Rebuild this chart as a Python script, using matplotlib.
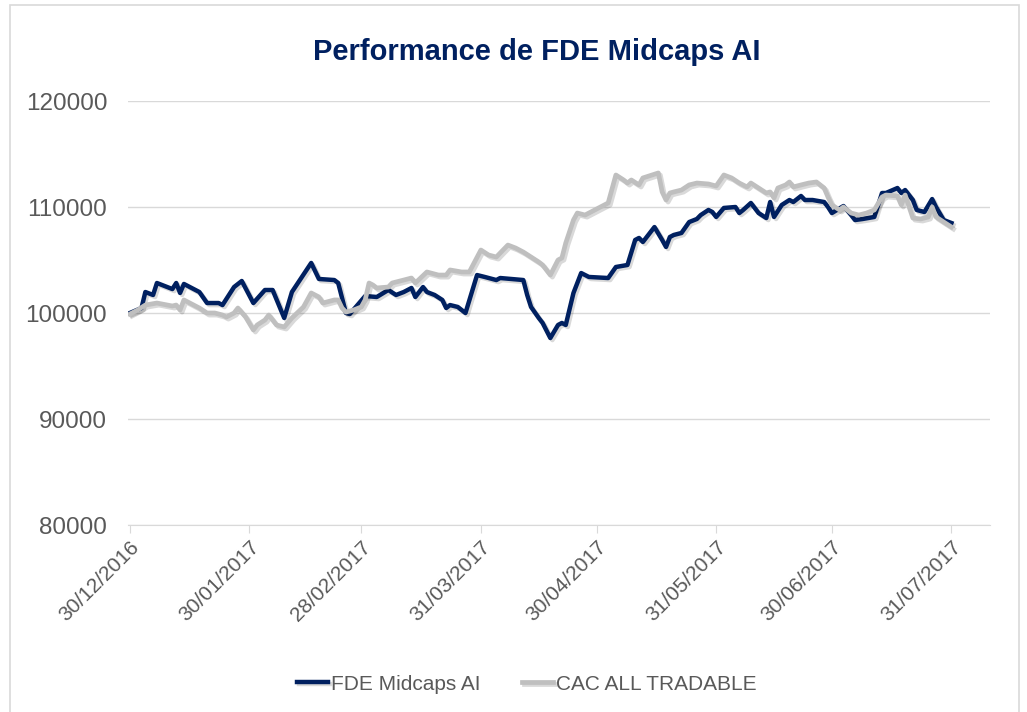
import pandas as pd
import matplotlib
matplotlib.use("Agg")
import matplotlib.pyplot as plt
import matplotlib.dates as mdates
import matplotlib.patheffects as pe
from matplotlib.patches import Rectangle

plt.rcParams['font.family'] = ['Liberation Sans', 'DejaVu Sans']

# values
fde_dates = [
    "2016-12-30", "2017-01-02", "2017-01-03", "2017-01-05", "2017-01-06", "2017-01-10",
    "2017-01-11", "2017-01-12", "2017-01-13", "2017-01-17", "2017-01-19", "2017-01-22",
    "2017-01-23", "2017-01-26", "2017-01-28", "2017-01-31", "2017-02-03", "2017-02-05",
    "2017-02-08", "2017-02-10", "2017-02-15", "2017-02-17", "2017-02-21", "2017-02-22",
    "2017-02-24", "2017-02-25", "2017-02-27", "2017-03-01", "2017-03-04", "2017-03-07",
    "2017-03-09", "2017-03-11", "2017-03-13", "2017-03-14", "2017-03-16", "2017-03-17",
    "2017-03-19", "2017-03-21", "2017-03-22", "2017-03-23", "2017-03-25", "2017-03-27",
    "2017-03-30", "2017-04-01", "2017-04-04", "2017-04-05", "2017-04-11", "2017-04-12",
    "2017-04-13", "2017-04-15", "2017-04-16", "2017-04-18", "2017-04-20", "2017-04-21",
    "2017-04-22", "2017-04-24", "2017-04-26", "2017-04-28", "2017-05-03", "2017-05-05",
    "2017-05-08", "2017-05-10", "2017-05-11", "2017-05-12", "2017-05-15", "2017-05-17",
    "2017-05-18", "2017-05-19", "2017-05-20", "2017-05-22", "2017-05-24", "2017-05-26",
    "2017-05-27", "2017-05-29", "2017-05-30", "2017-05-31", "2017-06-02", "2017-06-05",
    "2017-06-06", "2017-06-07", "2017-06-09", "2017-06-11", "2017-06-13", "2017-06-14",
    "2017-06-15", "2017-06-17", "2017-06-19", "2017-06-20", "2017-06-22", "2017-06-23",
    "2017-06-25", "2017-06-28", "2017-06-29", "2017-06-30", "2017-07-03", "2017-07-05",
    "2017-07-06", "2017-07-08", "2017-07-11", "2017-07-13", "2017-07-14", "2017-07-17",
    "2017-07-18", "2017-07-19", "2017-07-21", "2017-07-22", "2017-07-24", "2017-07-26",
    "2017-07-27", "2017-07-29", "2017-07-31",
]
fde_values = [
    100000, 100470, 101980, 101700, 102830, 102260,
    102830, 101890, 102740, 101980, 100940, 100940,
    100750, 102450, 103020, 100940, 102170, 102170,
    99530, 101980, 104720, 103210, 103110, 102830,
    100000, 99900, 100750, 101600, 101510, 102170,
    101700, 101980, 102360, 101510, 102450, 101980,
    101700, 101230, 100470, 100750, 100570, 100000,
    103580, 103400, 103110, 103300, 103110, 101700,
    100570, 99530, 99060, 97640, 98870, 99060,
    98870, 101890, 103770, 103400, 103300, 104340,
    104530, 106890, 107080, 106700, 108110, 106890,
    106230, 107170, 107360, 107550, 108580, 108870,
    109240, 109720, 109530, 109060, 109910, 110000,
    109430, 109720, 110380, 109430, 108960, 110470,
    109060, 110190, 110660, 110470, 111040, 110660,
    110660, 110470, 110000, 109430, 110090, 109240,
    108770, 108870, 109060, 111320, 111320, 111790,
    111320, 111600, 110660, 109720, 109530, 110750,
    110000, 108770, 108490,
]

cac_dates = [
    "2016-12-30", "2017-01-01", "2017-01-03", "2017-01-06", "2017-01-10", "2017-01-11",
    "2017-01-12", "2017-01-13", "2017-01-17", "2017-01-19", "2017-01-21", "2017-01-23",
    "2017-01-24", "2017-01-26", "2017-01-27", "2017-01-29", "2017-01-31", "2017-02-01",
    "2017-02-03", "2017-02-04", "2017-02-06", "2017-02-08", "2017-02-10", "2017-02-13",
    "2017-02-15", "2017-02-17", "2017-02-18", "2017-02-21", "2017-02-22", "2017-02-23",
    "2017-02-24", "2017-02-26", "2017-02-28", "2017-03-01", "2017-03-02", "2017-03-03",
    "2017-03-04", "2017-03-07", "2017-03-08", "2017-03-11", "2017-03-13", "2017-03-14",
    "2017-03-17", "2017-03-20", "2017-03-22", "2017-03-23", "2017-03-26", "2017-03-28",
    "2017-03-31", "2017-04-02", "2017-04-04", "2017-04-05", "2017-04-07", "2017-04-09",
    "2017-04-11", "2017-04-13", "2017-04-15", "2017-04-16", "2017-04-18", "2017-04-20",
    "2017-04-21", "2017-04-22", "2017-04-24", "2017-04-25", "2017-04-27", "2017-04-28",
    "2017-05-01", "2017-05-03", "2017-05-05", "2017-05-07", "2017-05-08", "2017-05-09",
    "2017-05-11", "2017-05-12", "2017-05-16", "2017-05-17", "2017-05-18", "2017-05-19",
    "2017-05-20", "2017-05-22", "2017-05-24", "2017-05-26", "2017-05-29", "2017-05-31",
    "2017-06-02", "2017-06-04", "2017-06-06", "2017-06-08", "2017-06-09", "2017-06-11",
    "2017-06-13", "2017-06-14", "2017-06-15", "2017-06-16", "2017-06-18", "2017-06-19",
    "2017-06-20", "2017-06-22", "2017-06-24", "2017-06-26", "2017-06-28", "2017-06-29",
    "2017-06-30", "2017-07-02", "2017-07-03", "2017-07-05", "2017-07-07", "2017-07-09",
    "2017-07-11", "2017-07-13", "2017-07-14", "2017-07-17", "2017-07-18", "2017-07-19",
    "2017-07-21", "2017-07-23", "2017-07-25", "2017-07-26", "2017-07-27", "2017-07-29",
    "2017-07-31",
]
cac_values = [
    99900, 100280, 100750, 100940, 100660, 100750,
    100280, 101230, 100470, 100000, 100000, 99810,
    99620, 100000, 100470, 99620, 98400, 98870,
    99340, 99810, 98870, 98680, 99530, 100570,
    101890, 101510, 100940, 101230, 101230, 100470,
    100090, 100280, 100570, 101230, 102830, 102640,
    102360, 102450, 102830, 103110, 103300, 102830,
    103870, 103580, 103580, 104060, 103870, 103870,
    105940, 105470, 105280, 105660, 106410, 106130,
    105750, 105280, 104810, 104530, 103580, 105000,
    105190, 106600, 108770, 109430, 109240, 109430,
    110000, 110380, 113020, 112550, 112260, 112550,
    112080, 112740, 113210, 111420, 110660, 111320,
    111420, 111600, 112080, 112260, 112170, 111980,
    113020, 112740, 112260, 111890, 112260, 111790,
    111320, 111420, 110850, 111790, 112080, 112360,
    111890, 112080, 112260, 112360, 111790, 110940,
    110190, 109720, 110000, 109430, 109240, 109430,
    109720, 110940, 111130, 111040, 110190, 111130,
    108960, 108870, 109060, 110000, 109060, 108580,
    108110,
]

tick_dates = ["2016-12-30", "2017-01-30", "2017-02-28", "2017-03-31",
              "2017-04-30", "2017-05-31", "2017-06-30", "2017-07-31"]
y_ticks = [80000, 90000, 100000, 110000, 120000]

navy = "#002060"
grey = "#bfbfbf"
text_grey = "#595959"

fig = plt.figure(figsize=(10.27, 7.12), dpi=100)
fig.patches.append(Rectangle((10 / 1027, -0.01), 1009 / 1027, 1 - 5 / 712 + 0.01,
                             transform=fig.transFigure, fill=False,
                             edgecolor="#d9d9d9", linewidth=1.2))

ax = fig.add_axes([128 / 1027, 1 - 525 / 712, (990 - 128) / 1027, (525 - 101) / 712])

shadow = [pe.SimpleLineShadow(offset=(1.5, -1.5), alpha=0.15, shadow_color="black"), pe.Normal()]
ax.plot(pd.to_datetime(fde_dates), fde_values, color=navy, lw=3.2,
        solid_joinstyle="round", label="FDE Midcaps AI", path_effects=shadow)
ax.plot(pd.to_datetime(cac_dates), cac_values, color=grey, lw=3.4,
        solid_joinstyle="round", label="CAC ALL TRADABLE", path_effects=shadow)

ax.set_ylim(80000, 120000)
ax.set_yticks(y_ticks)
ax.set_xlim(pd.Timestamp("2016-12-29 12:00"), pd.Timestamp("2017-08-10"))
ax.set_xticks(pd.to_datetime(tick_dates))
ax.xaxis.set_major_formatter(mdates.DateFormatter("%d/%m/%Y"))

ax.grid(axis="y", color="#d9d9d9", linewidth=1)
ax.set_axisbelow(True)
for side in ["top", "right", "left"]:
    ax.spines[side].set_visible(False)
ax.spines["bottom"].set_color("#d9d9d9")
ax.tick_params(axis="y", length=0, pad=15, labelsize=17.5, labelcolor=text_grey)
ax.tick_params(axis="x", length=6, color="#d9d9d9", labelsize=15, labelcolor=text_grey, pad=3)
for lbl in ax.get_xticklabels():
    lbl.set_rotation(45)
    lbl.set_ha("right")
    lbl.set_rotation_mode("anchor")

fig.text(0.523, 1 - 52 / 712, "Performance de FDE Midcaps AI", ha="center", va="center",
         fontsize=21, fontweight="bold", color=navy)

fig.legend(loc="center", bbox_to_anchor=(0.513, 1 - 684 / 712), ncol=2, frameon=False,
           fontsize=15, labelcolor=text_grey, handlelength=1.5, handletextpad=0.15,
           columnspacing=2.0)

fig.savefig("out.png", dpi=100)
